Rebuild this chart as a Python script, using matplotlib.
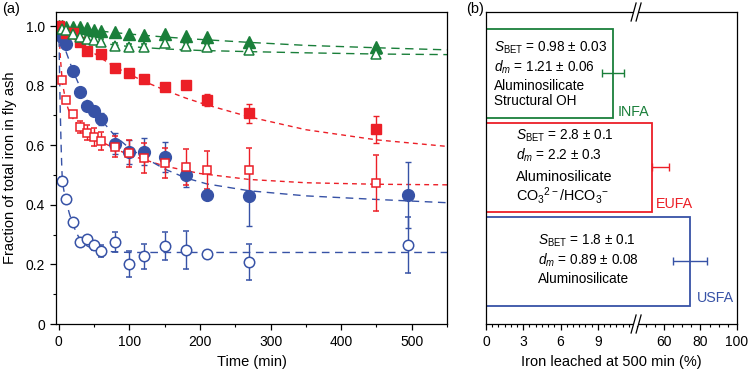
import numpy as np
import matplotlib
matplotlib.use("Agg")
from matplotlib import pyplot as plt
from matplotlib.ticker import FixedLocator, MultipleLocator

plt.rcParams['font.family'] = ['Liberation Sans', 'DejaVu Sans']
plt.rcParams['mathtext.fontset'] = 'custom'
plt.rcParams['mathtext.rm'] = 'Liberation Sans'
plt.rcParams['mathtext.it'] = 'Liberation Sans:italic'

GREEN = '#1a7f3a'
RED = '#ec1f27'
BLUE = '#3752a6'

# ---- panel (a) data: fraction of total iron left in fly ash vs time (min)
infa_t = [0, 5, 10, 20, 30, 40, 50, 60, 80, 100, 120, 150, 180, 210, 270, 450]
infa_y = [1.0, 1.0, 0.998, 0.997, 0.995, 0.992, 0.987, 0.983, 0.979, 0.974, 0.97, 0.972, 0.965, 0.963, 0.948, 0.931]
infa_o_t = [5, 10, 20, 30, 40, 50, 60, 80, 100, 120, 150, 180, 210, 270, 450]
infa_o_y = [0.99, 0.985, 0.972, 0.962, 0.958, 0.952, 0.948, 0.932, 0.928, 0.93, 0.944, 0.932, 0.93, 0.92, 0.905]
infa_o_e = [0.01] * 15

eufa_t = [0, 10, 20, 30, 40, 60, 80, 100, 120, 150, 180, 210, 270, 450]
eufa_y = [1.0, 0.977, 0.975, 0.948, 0.915, 0.905, 0.86, 0.843, 0.822, 0.794, 0.802, 0.752, 0.707, 0.654]
eufa_e = [0, 0, 0, 0, 0, 0, 0, 0, 0, 0.008, 0.01, 0.02, 0.032, 0.045]
eufa_o_t = [5, 10, 20, 30, 40, 50, 60, 80, 100, 120, 150, 180, 210, 270, 450]
eufa_o_y = [0.82, 0.752, 0.705, 0.66, 0.642, 0.628, 0.614, 0.595, 0.573, 0.556, 0.541, 0.527, 0.517, 0.517, 0.472]
eufa_o_e = [0.005, 0.005, 0.01, 0.02, 0.025, 0.03, 0.03, 0.035, 0.045, 0.05, 0.05, 0.06, 0.065, 0.073, 0.094]

usfa_t = [5, 10, 20, 30, 40, 50, 60, 80, 100, 120, 150, 180, 210, 270, 495]
usfa_y = [0.964, 0.94, 0.85, 0.78, 0.732, 0.715, 0.688, 0.605, 0.578, 0.578, 0.56, 0.50, 0.434, 0.43, 0.433]
usfa_e = [0, 0, 0, 0, 0.01, 0.015, 0.02, 0.035, 0.04, 0.045, 0.05, 0.04, 0, 0.1, 0.11]
usfa_o_t = [5, 10, 20, 30, 40, 50, 60, 80, 100, 120, 150, 180, 210, 270, 495]
usfa_o_y = [0.48, 0.418, 0.341, 0.274, 0.285, 0.265, 0.246, 0.276, 0.201, 0.228, 0.263, 0.248, 0.235, 0.209, 0.265]
usfa_o_e = [0.012, 0.012, 0.01, 0, 0.01, 0.015, 0.02, 0.034, 0.043, 0.042, 0.047, 0.063, 0, 0.06, 0.095]

# fitted curves
fit_infa_t = [0, 50, 100, 150, 200, 270, 350, 450, 550]
fit_infa_y = [1.0, 0.985, 0.973, 0.963, 0.955, 0.945, 0.935, 0.927, 0.92]
fit_infa_o_t = [0, 10, 20, 40, 60, 100, 150, 200, 270, 350, 450, 550]
fit_infa_o_y = [1.0, 0.982, 0.968, 0.952, 0.942, 0.931, 0.923, 0.918, 0.914, 0.91, 0.906, 0.904]
fit_eufa_t = [0, 10, 20, 40, 60, 80, 100, 120, 150, 180, 210, 270, 350, 450, 550]
fit_eufa_y = [1.0, 0.98, 0.96, 0.925, 0.892, 0.862, 0.838, 0.815, 0.785, 0.758, 0.735, 0.695, 0.652, 0.618, 0.596]
fit_eufa_o_t = [0, 2, 5, 10, 15, 20, 30, 40, 60, 80, 100, 150, 200, 270, 350, 450, 550]
fit_eufa_o_y = [1.0, 0.9, 0.81, 0.745, 0.71, 0.69, 0.66, 0.64, 0.612, 0.588, 0.567, 0.53, 0.505, 0.485, 0.474, 0.469, 0.467]
fit_usfa_t = [0, 5, 10, 20, 30, 40, 50, 60, 80, 100, 120, 150, 180, 210, 270, 350, 450, 550]
fit_usfa_y = [1.0, 0.955, 0.915, 0.85, 0.795, 0.75, 0.715, 0.685, 0.63, 0.59, 0.56, 0.52, 0.49, 0.47, 0.447, 0.43, 0.418, 0.407]
fit_usfa_o_t = [0, 1, 2, 3, 4, 5, 7, 10, 15, 20, 25, 30, 40, 50, 60, 80, 100, 550]
fit_usfa_o_y = [1.0, 0.85, 0.72, 0.62, 0.54, 0.48, 0.45, 0.415, 0.37, 0.335, 0.305, 0.285, 0.262, 0.25, 0.245, 0.242, 0.24, 0.24]

# ---- panel (b) data
ash = ['INFA', 'EUFA', 'USFA']
leached = [10.2, 53.4, 74.2]
leached_lo = [0.9, 0, 9.3]
leached_hi = [0.9, 9.2, 9.3]

fig = plt.figure(figsize=(7.48, 3.71), dpi=100)
ax = fig.add_axes([56 / 748, 47 / 371, 391 / 748, 312 / 371])

ax.plot(fit_infa_t, fit_infa_y, color=GREEN, lw=1, dashes=(6, 4))
ax.plot(fit_infa_o_t, fit_infa_o_y, color=GREEN, lw=1, dashes=(6, 4))
ax.plot(fit_eufa_t, fit_eufa_y, color=RED, lw=1, dashes=(3.5, 3))
ax.plot(fit_eufa_o_t, fit_eufa_o_y, color=RED, lw=1, dashes=(3.5, 3))
ax.plot(fit_usfa_t, fit_usfa_y, color=BLUE, lw=1, dashes=(5.5, 4))
ax.plot(fit_usfa_o_t, fit_usfa_o_y, color=BLUE, lw=1, dashes=(5.5, 4))

ek = dict(lw=0, elinewidth=1, capsize=2.5, capthick=1)
ax.errorbar(usfa_o_t, usfa_o_y, yerr=usfa_o_e, fmt='o', ms=7.5, mfc='white', mec=BLUE, mew=1.1, ecolor=BLUE, **ek)
ax.errorbar(usfa_t, usfa_y, yerr=usfa_e, fmt='o', ms=8.5, color=BLUE, ecolor=BLUE, **ek)
ax.errorbar(eufa_o_t, eufa_o_y, yerr=eufa_o_e, fmt='s', ms=6.3, mfc='white', mec=RED, mew=1.1, ecolor=RED, **ek)
ax.errorbar(eufa_t, eufa_y, yerr=eufa_e, fmt='s', ms=7.3, color=RED, ecolor=RED, **ek)
ax.errorbar(infa_o_t, infa_o_y, yerr=infa_o_e, fmt='^', ms=7.5, mfc='white', mec=GREEN, mew=1.1, ecolor=GREEN, **ek)
ax.plot(infa_t, infa_y, '^', ms=8.5, color=GREEN)

ax.set_xlim(-4, 550)
ax.set_ylim(0, 1.047)
ax.xaxis.set_major_locator(MultipleLocator(100))
ax.xaxis.set_minor_locator(MultipleLocator(50))
ax.yaxis.set_major_locator(MultipleLocator(0.2))
ax.yaxis.set_minor_locator(MultipleLocator(0.1))
ax.set_yticks([0, 0.2, 0.4, 0.6, 0.8, 1.0])
ax.set_yticklabels(['0', '0.2', '0.4', '0.6', '0.8', '1.0'])
ax.tick_params(which='major', length=4.5, width=0.9, labelsize=10, direction='out')
ax.tick_params(which='minor', length=2.5, width=0.8, direction='out')
ax.set_xlabel('Time (min)', fontsize=10.5, labelpad=4)
ax.set_ylabel('Fraction of total iron in fly ash', fontsize=10.5, labelpad=6)

# ---- panel (b): broken x axis through a piecewise scale
brk_v = [0, 12.08, 44.7, 100]
brk_f = [0, 12.08, 12.081, 20.21]


def fwd(v):
    return np.interp(v, brk_v, brk_f)


def inv(f):
    return np.interp(f, brk_f, brk_v)


bx = fig.add_axes([486 / 748, 47 / 371, 251 / 748, 312 / 371])
bx.set_xscale('function', functions=(fwd, inv))
bx.set_xlim(0, 100)
ypos = [3, 2, 1]
cols = [GREEN, RED, BLUE]
bx.barh(ypos, leached, height=0.95, color='white', edgecolor=cols, linewidth=1.3, zorder=2)
for y, v, lo, hi, c in zip(ypos, leached, leached_lo, leached_hi, cols):
    bx.errorbar([v], [y], xerr=[[lo], [hi]], fmt='none', ecolor=c, elinewidth=1, capsize=3, capthick=1, zorder=3)
bx.set_ylim(0.33, 3.655)
bx.set_yticks([])
bx.xaxis.set_major_locator(FixedLocator([0, 3, 6, 9, 60, 80, 100]))
minor = [m for m in np.arange(0.5, 12.01, 0.5) if m % 3] + [45, 50, 55, 65, 70, 75, 85, 90, 95]
bx.xaxis.set_minor_locator(FixedLocator(minor))
bx.xaxis.set_major_formatter(plt.FuncFormatter(lambda v, p: '%d' % round(v)))
bx.tick_params(which='major', length=4.5, width=0.9, labelsize=10, direction='out')
bx.tick_params(which='minor', length=2.5, width=0.8, direction='out')
bx.set_xlabel('Iron leached at 500 min (%)', fontsize=10.5, labelpad=4)

fs = 9.8
bx.text(0.032, 0.885, r'$S_{\rm BET}$ = 0.98 ± 0.03', transform=bx.transAxes, fontsize=fs, va='center')
bx.text(0.032, 0.824, r'$d_m$ = 1.21 ± 0.06', transform=bx.transAxes, fontsize=fs, va='center')
bx.text(0.032, 0.763, 'Aluminosilicate', transform=bx.transAxes, fontsize=fs, va='center')
bx.text(0.032, 0.716, 'Structural OH', transform=bx.transAxes, fontsize=fs, va='center')
bx.text(0.12, 0.603, r'$S_{\rm BET}$ = 2.8 ± 0.1', transform=bx.transAxes, fontsize=fs, va='center')
bx.text(0.12, 0.542, r'$d_m$ = 2.2 ± 0.3', transform=bx.transAxes, fontsize=fs, va='center')
bx.text(0.12, 0.471, 'Aluminosilicate', transform=bx.transAxes, fontsize=10.4, va='center')
bx.text(0.12, 0.413, r'CO$_3$$^{2-}$/HCO$_3$$^{-}$', transform=bx.transAxes, fontsize=10.4, va='center')
bx.text(0.207, 0.266, r'$S_{\rm BET}$ = 1.8 ± 0.1', transform=bx.transAxes, fontsize=fs, va='center')
bx.text(0.207, 0.205, r'$d_m$ = 0.89 ± 0.08', transform=bx.transAxes, fontsize=fs, va='center')
bx.text(0.207, 0.144, 'Aluminosilicate', transform=bx.transAxes, fontsize=fs, va='center')
bx.text(0.526, 0.679, 'INFA', transform=bx.transAxes, fontsize=10.3, color=GREEN, va='center')
bx.text(0.677, 0.385, 'EUFA', transform=bx.transAxes, fontsize=10.3, color=RED, va='center')
bx.text(0.841, 0.083, 'USFA', transform=bx.transAxes, fontsize=10.3, color=BLUE, va='center')

# break marks on the top and bottom spines
bxp = 0.598
dx, dy, gap = 2.5 / 251, 9 / 312, 5 / 251
for yb in (0, 1):
    bx.fill_between([bxp - gap / 2, bxp + gap / 2], yb - 0.006, yb + 0.006, color='white',
                    transform=bx.transAxes, clip_on=False, zorder=5, lw=0)
    for xo in (bxp - gap / 2, bxp + gap / 2):
        bx.plot([xo - dx, xo + dx], [yb - dy, yb + dy], color='black', lw=0.9,
                transform=bx.transAxes, clip_on=False, zorder=6)

for a in (ax, bx):
    for s in a.spines.values():
        s.set_linewidth(0.9)

fig.text(0.003, 0.995, '(a)', fontsize=10.5, va='top')
fig.text(466 / 748, 0.995, '(b)', fontsize=10.5, va='top')

fig.savefig('out.png', dpi=100)
